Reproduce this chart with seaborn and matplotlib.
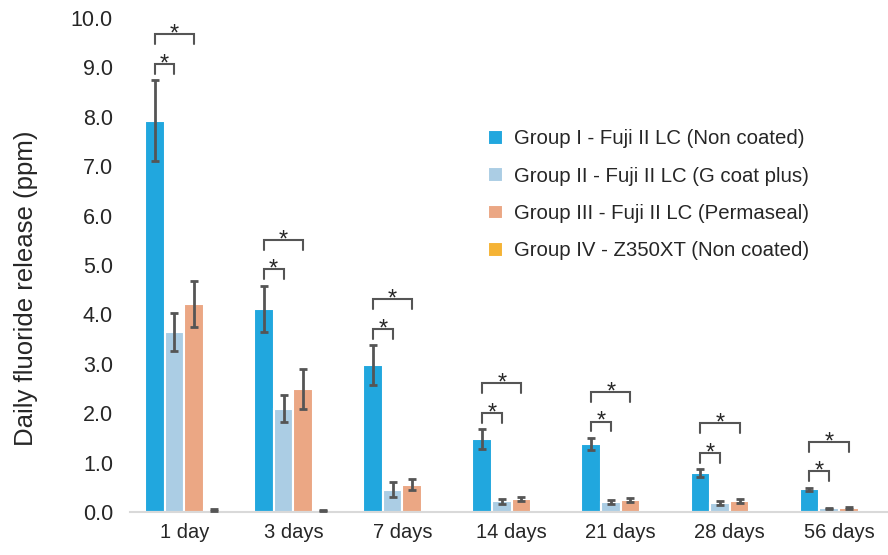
import numpy as np
import pandas as pd
import matplotlib
matplotlib.use('Agg')
import matplotlib.pyplot as plt
import seaborn as sns

# 数据
days = ['1 day', '3 days', '7 days', '14 days', '21 days', '28 days', '56 days']
groups = ['Group I - Fuji II LC (Non coated)',
          'Group II - Fuji II LC (G coat plus)',
          'Group III - Fuji II LC (Permaseal)',
          'Group IV - Z350XT (Non coated)']

g1_mean = [7.92, 4.11, 2.98, 1.48, 1.38, 0.79, 0.46]
g1_err = [0.82, 0.47, 0.40, 0.20, 0.12, 0.08, 0.03]
g2_mean = [3.64, 2.09, 0.45, 0.22, 0.21, 0.19, 0.08]
g2_err = [0.38, 0.27, 0.15, 0.05, 0.04, 0.04, 0.01]
g3_mean = [4.21, 2.49, 0.55, 0.26, 0.24, 0.23, 0.09]
g3_err = [0.47, 0.40, 0.11, 0.04, 0.04, 0.04, 0.02]
g4_mean = [0.05, 0.03, 0.0, 0.0, 0.0, 0.0, 0.0]
g4_err = [0.02, 0.01, 0.0, 0.0, 0.0, 0.0, 0.0]

colors = ['#21A7DE', '#ABCDE4', '#EBA784', '#F5B335']

means = [g1_mean, g2_mean, g3_mean, g4_mean]
errs = [g1_err, g2_err, g3_err, g4_err]

df = pd.DataFrame({
    'day': days * 4,
    'group': np.repeat(groups, len(days)),
    'value': np.concatenate(means),
})

sns.set_style('white')
plt.rcParams['font.family'] = ['Liberation Sans', 'DejaVu Sans']
text_color = '#262626'

fig = plt.figure(figsize=(8.88, 5.55), dpi=100)
ax = fig.add_axes([0.146, 0.0775, 0.854, 0.89])

sns.barplot(data=df, x='day', y='value', hue='group', order=days, hue_order=groups,
            palette=colors, errorbar=None, width=0.72, edgecolor='white',
            linewidth=1.5, saturation=1, ax=ax)

# 误差线
centers = []
for cont, err in zip(ax.containers, errs):
    xs = [p.get_x() + p.get_width() / 2 for p in cont.patches]
    hs = [p.get_height() for p in cont.patches]
    centers.append(xs)
    xs_e = [x for x, e in zip(xs, err) if e > 0]
    hs_e = [h for h, e in zip(hs, err) if e > 0]
    es = [e for e in err if e > 0]
    ax.errorbar(xs_e, hs_e, yerr=es, fmt='none', ecolor='#555555',
                elinewidth=2, capsize=3, capthick=2, zorder=5)

# 显著性括号
bc = '#555555'
for i in range(len(days)):
    base = g1_mean[i] + g1_err[i] + 0.13
    for j, top in ((1, base + 0.2), (2, base + 0.8)):
        x0, x1 = centers[0][i], centers[j][i]
        ax.plot([x0, x0, x1, x1], [top - 0.2, top, top, top - 0.2],
                color=bc, lw=1.5, solid_joinstyle='miter')
        ax.text((x0 + x1) / 2, top - 0.13, '*', ha='center', va='baseline',
                fontsize=17, color=text_color)

ax.set_ylim(0, 10)
ax.set_xlim(-0.5, 6.45)
ax.set_yticks(np.arange(0, 10.01, 1.0))
ax.set_yticklabels([f'{v:.1f}' for v in np.arange(0, 10.01, 1.0)])
ax.tick_params(axis='x', labelsize=14.5, colors=text_color, length=0, pad=8)
ax.tick_params(axis='y', labelsize=15.5, colors=text_color, length=0, pad=12)
ax.set_xlabel('')
ax.set_ylabel('Daily fluoride release (ppm)', fontsize=18.5, color=text_color)
ax.yaxis.set_label_coords(-0.121, 0.453)

for s in ['top', 'right', 'left']:
    ax.spines[s].set_visible(False)
ax.spines['bottom'].set_color('#d9d9d9')
ax.spines['bottom'].set_linewidth(1.5)

handles, labels = ax.get_legend_handles_labels()
ax.legend(handles, labels, loc='upper left', bbox_to_anchor=(0.529, 0.8),
          bbox_transform=fig.transFigure, frameon=False, fontsize=14.7,
          handlelength=0.75, handleheight=0.75, handletextpad=0.5, labelspacing=0.9,
          labelcolor=text_color)

fig.savefig('out.png', dpi=100)
